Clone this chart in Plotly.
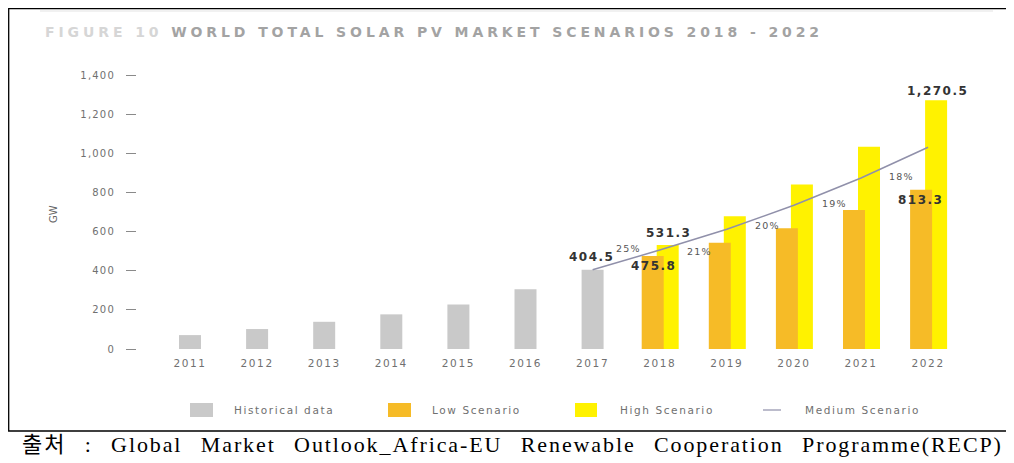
import plotly.graph_objects as go

# ---------------- data ----------------
hist_years = [2011, 2012, 2013, 2014, 2015, 2016, 2017]
hist_values = [71, 102, 139, 177, 228, 305, 404.5]
scen_years = [2018, 2019, 2020, 2021, 2022]
low_values = [475.8, 543, 617, 710, 813.3]
high_values = [531.3, 678, 841, 1034, 1270.5]
med_years = [2017, 2018, 2019, 2020, 2021, 2022]
med_values = [404.5, 505.6, 611.8, 734.2, 873.7, 1031.0]
growth_labels = ["25%", "21%", "20%", "19%", "18%"]
growth_x = [2017.53, 2018.6, 2019.6, 2020.61, 2021.61]
growth_y = [516, 496, 629, 741, 879]
x_ticks = list(range(2011, 2023))
y_ticks = [0, 200, 400, 600, 800, 1000, 1200, 1400]
y_ticktext = ["0", "200", "400", "600", "800", "1,000", "1,200", "1,400"]

# ---------------- geometry ----------------
# the page body has an 8px margin, so the figure starts at (8, 8) in the window
OFF = 8
W, H = 1014 - OFF, 463 - OFF
ML = 137 - OFF
MT = 60 - OFF
MR = W - (990 - OFF)
MB = H - (349 - OFF)
PW, PH = W - ML - MR, H - MT - MB
PX_PER_YEAR = 67.1
x_left = 2011 + (137 - 190) / PX_PER_YEAR
x_right = 2011 + (990 - 190) / PX_PER_YEAR
y_top = PH / (274 / 1400)


def px(x):
    """window pixel x -> paper coordinate"""
    return (x - OFF - ML) / PW


def py(y):
    """window pixel y -> paper coordinate"""
    return 1 - (y - OFF - MT) / PH


BW = 22 / PX_PER_YEAR
GRAY = "#c9c9c9"
ORANGE = "#f6bb27"
YELLOW = "#fff200"
LINEC = "#9090aa"
SANS = "DejaVu Sans"


def sp(t, ls):
    return f'<span style="letter-spacing:{ls}px">{t}</span>'


fig = go.Figure()
fig.add_trace(go.Bar(x=hist_years, y=hist_values, width=BW, marker_color=GRAY,
                     marker_line_width=0, name="Historical data"))
fig.add_trace(go.Bar(x=scen_years, y=high_values, width=BW, offset=-3 / PX_PER_YEAR,
                     marker_color=YELLOW, marker_line_width=0, name="High Scenario"))
fig.add_trace(go.Bar(x=scen_years, y=low_values, width=BW, offset=-18 / PX_PER_YEAR,
                     marker_color=ORANGE, marker_line_width=0, name="Low Scenario"))
fig.add_trace(go.Scatter(x=med_years, y=med_values, mode="lines",
                         line=dict(color=LINEC, width=1.5), name="Medium Scenario"))

ann = []
val_font = dict(family=SANS, size=12, color="#333333", weight="bold")


def vlab(text, x, y, xs, ys):
    ann.append(dict(x=x, y=y, xref="x", yref="y", text=sp(text, 1.5), showarrow=False,
                    xshift=xs, yshift=ys, font=val_font, xanchor="center", yanchor="middle"))


vlab("404.5", hist_years[6], hist_values[6], -1, 13)
vlab("531.3", scen_years[0], high_values[0], 9, 12)
vlab("475.8", scen_years[0], low_values[0], -6, -10)
vlab("1,270.5", scen_years[4], high_values[4], 9, 9)
vlab("813.3", scen_years[4], low_values[4], -8, -10)

for t, gx, gy in zip(growth_labels, growth_x, growth_y):
    ann.append(dict(x=gx, y=gy, xref="x", yref="y", text=sp(t, 1.2), showarrow=False,
                    font=dict(family=SANS, size=9.5, color="#555555"),
                    xanchor="center", yanchor="middle"))

# y axis title
ann.append(dict(x=px(54), y=py(214), xref="paper", yref="paper", text="GW", textangle=-90,
                showarrow=False, font=dict(family=SANS, size=10, color="#666666"),
                xanchor="center", yanchor="middle"))

# title
ann.append(dict(x=px(43), y=py(32), xref="paper", yref="paper", showarrow=False,
                xanchor="left", yanchor="middle",
                text='<span style="letter-spacing:3.9px"><span style="color:#d6d6d6">FIGURE 10</span> WORLD TOTAL SOLAR PV MARKET SCENARIOS 2018 - 2022</span>',
                font=dict(family=SANS, size=14, color="#a3a3a3", weight="bold")))

# legend (custom)
shapes = []
leg_y = 410
for (x0, x1, col) in [(190, 213, GRAY), (388, 411, ORANGE), (575, 597, YELLOW)]:
    shapes.append(dict(type="rect", xref="paper", yref="paper", x0=px(x0), x1=px(x1),
                       y0=py(403), y1=py(417), fillcolor=col, line_width=0))
shapes.append(dict(type="line", xref="paper", yref="paper", x0=px(763), x1=px(781),
                   y0=py(leg_y), y1=py(leg_y), line=dict(color=LINEC, width=1.2)))
for (x0, t) in [(232, "Historical data"), (430, "Low Scenario"), (618, "High Scenario"),
                (803, "Medium Scenario")]:
    ann.append(dict(x=px(x0), y=py(leg_y), xref="paper", yref="paper", text=sp(t, 1.6),
                    showarrow=False, xanchor="left", yanchor="middle",
                    font=dict(family=SANS, size=10.5, color="#707070")))

# frame
shapes.append(dict(type="rect", xref="paper", yref="paper", x0=px(8.7), x1=px(1007),
                   y0=py(431), y1=py(8.7), line=dict(color="#000000", width=1.3),
                   fillcolor="rgba(0,0,0,0)"))
shapes.append(dict(type="line", xref="paper", yref="paper", x0=px(40), x1=px(993),
                   y0=py(11), y1=py(11), line=dict(color="#ececec", width=1.5)))

# caption
ann.append(dict(x=px(20), y=py(444), xref="paper", yref="paper", showarrow=False,
                xanchor="left", yanchor="middle",
                text='<span style="letter-spacing:1.9px;word-spacing:11px">출처 : Global Market Outlook_Africa-EU Renewable Cooperation Programme(RECP)</span>',
                font=dict(family="Liberation Serif, Noto Sans CJK KR", size=22, color="#000000")))

fig.update_layout(
    width=W, height=H, margin=dict(l=ML, r=MR, t=MT, b=MB),
    paper_bgcolor="white", plot_bgcolor="white",
    barmode="overlay", showlegend=False,
    annotations=ann, shapes=shapes,
    xaxis=dict(range=[x_left, x_right], tickvals=x_ticks,
               ticktext=[sp(str(v), 1.6) for v in x_ticks],
               showgrid=False, zeroline=False, showline=False, ticks="",
               ticklabelstandoff=6,
               tickfont=dict(family=SANS, size=10.5, color="#707070")),
    yaxis=dict(range=[0, y_top], tickvals=y_ticks,
               ticktext=[sp(t, 1.2) for t in y_ticktext],
               showgrid=False, zeroline=False, showline=False,
               ticks="outside", ticklen=10, tickcolor="#8a8a8a", tickwidth=1,
               ticklabelstandoff=9,
               tickfont=dict(family=SANS, size=10, color="#707070")),
)

fig.write_html("out.html")
